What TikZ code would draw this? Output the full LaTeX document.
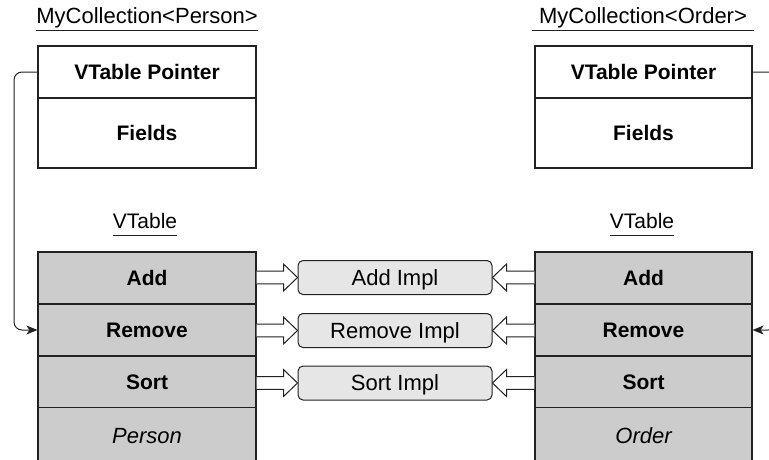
\documentclass[tikz,border=0pt]{standalone}
\usepackage{fontspec}
\setmainfont{Liberation Sans}
\usetikzlibrary{calc,arrows.meta}

\definecolor{rowgray}{HTML}{CCCCCC}
\definecolor{implgray}{HTML}{E6E6E6}
\definecolor{edge}{HTML}{222222}

% hollow block arrow from #1 to #2; #3 = +1 points right, -1 points left
\newcommand\hollowarrow[3]{%
  \draw[hollow]
    ($(#1)+(0,6.3)$) -- ($(#2)+(-14*#3,6.3)$) -- ($(#2)+(-14*#3,13.5)$) --
    (#2) -- ($(#2)+(-14*#3,-13.5)$) -- ($(#2)+(-14*#3,-6.3)$) --
    ($(#1)+(0,-6.3)$);}

\begin{document}
\begin{tikzpicture}[x=1pt,y=-1pt,
  capfit/.style={text height=15.4pt, text depth=0pt},
  reg/.style={font=\fontsize{22}{26}\selectfont, capfit, inner sep=0pt},
  cell/.style={draw=edge, line width=1.2pt, minimum width=218pt, inner sep=0pt,
    font=\fontsize{21}{25}\selectfont\bfseries, capfit},
  vrow/.style={cell, fill=rowgray, minimum height=52pt},
  impl/.style={draw=edge, line width=1pt, fill=implgray, rounded corners=5pt,
    minimum width=194pt, minimum height=34pt, inner sep=0pt,
    font=\fontsize{22}{26}\selectfont, capfit},
  hollow/.style={draw=edge, line width=1pt, fill=white},
  uline/.style={draw=edge, line width=1pt},
  conn/.style={draw=edge, line width=1pt, rounded corners=8pt,
    -{Stealth[length=11pt,width=9pt,inset=3pt]}}]

\useasboundingbox (0,0) rectangle (769,459);
\clip (0,0) rectangle (769,459);

% titles
\node[reg] (ltitle) at (147,16) {MyCollection<Person>};
\node[reg, inner xsep=7pt] (rtitle) at (643,16) {MyCollection<Order>};
\draw[uline] ($(ltitle.base west)+(0,7)$) -- ($(ltitle.base east)+(0,7)$);
\draw[uline] ($(rtitle.base west)+(0,7)$) -- ($(rtitle.base east)+(0,7)$);

% object layouts
\node[cell, minimum height=52pt] (lptr) at (147,72) {VTable Pointer};
\node[cell, minimum height=70pt] (lfld) at (147,133) {Fields};
\node[cell, minimum height=52pt, minimum width=217pt] (rptr) at (643.5,72) {VTable Pointer};
\node[cell, minimum height=70pt, minimum width=217pt] (rfld) at (643.5,133) {Fields};

% vtable captions
\node[reg, font=\fontsize{21}{25}\selectfont] (lvt) at (145,221) {VTable};
\node[reg, font=\fontsize{21}{25}\selectfont] (rvt) at (642,221) {VTable};
\draw[uline] ($(lvt.base west)+(0,7)$) -- ($(lvt.base east)+(0,7)$);
\draw[uline] ($(rvt.base west)+(0,7)$) -- ($(rvt.base east)+(0,7)$);

% left vtable
\node[vrow] (ladd) at (147,278) {Add};
\node[vrow] (lrem) at (147,330) {Remove};
\node[vrow] (lsrt) at (147,382) {Sort};
\node[vrow, minimum height=57pt, font=\fontsize{22}{26}\selectfont\itshape] (ltyp) at (147,436) {Person};

% right vtable
\node[vrow, minimum width=217pt] (radd) at (643.5,278) {Add};
\node[vrow, minimum width=217pt] (rrem) at (643.5,330) {Remove};
\node[vrow, minimum width=217pt] (rsrt) at (643.5,382) {Sort};
\node[vrow, minimum width=217pt, minimum height=57pt, font=\fontsize{22}{26}\selectfont\itshape] (rtyp) at (643.5,436) {Order};

% shared implementations
\node[impl] (iadd) at (395,277.5) {Add Impl};
\node[impl] (irem) at (395,330.5) {Remove Impl};
\node[impl] (isrt) at (395,383) {Sort Impl};

% block arrows into the implementations
\hollowarrow{ladd.east |- iadd.west}{iadd.west}{1}
\hollowarrow{lrem.east |- irem.west}{irem.west}{1}
\hollowarrow{lsrt.east |- isrt.west}{isrt.west}{1}
\hollowarrow{radd.west |- iadd.east}{iadd.east}{-1}
\hollowarrow{rrem.west |- irem.east}{irem.east}{-1}
\hollowarrow{rsrt.west |- isrt.east}{isrt.east}{-1}

% vtable pointers
\coordinate (lbend) at (14,0);
\coordinate (rbend) at (776,0);
\draw[conn] (lptr.west) -| (lbend |- lrem.west) -- (lrem.west);
\draw[conn] (rptr.east) -| (rbend |- rrem.east) -- (rrem.east);
\end{tikzpicture}
\end{document}
